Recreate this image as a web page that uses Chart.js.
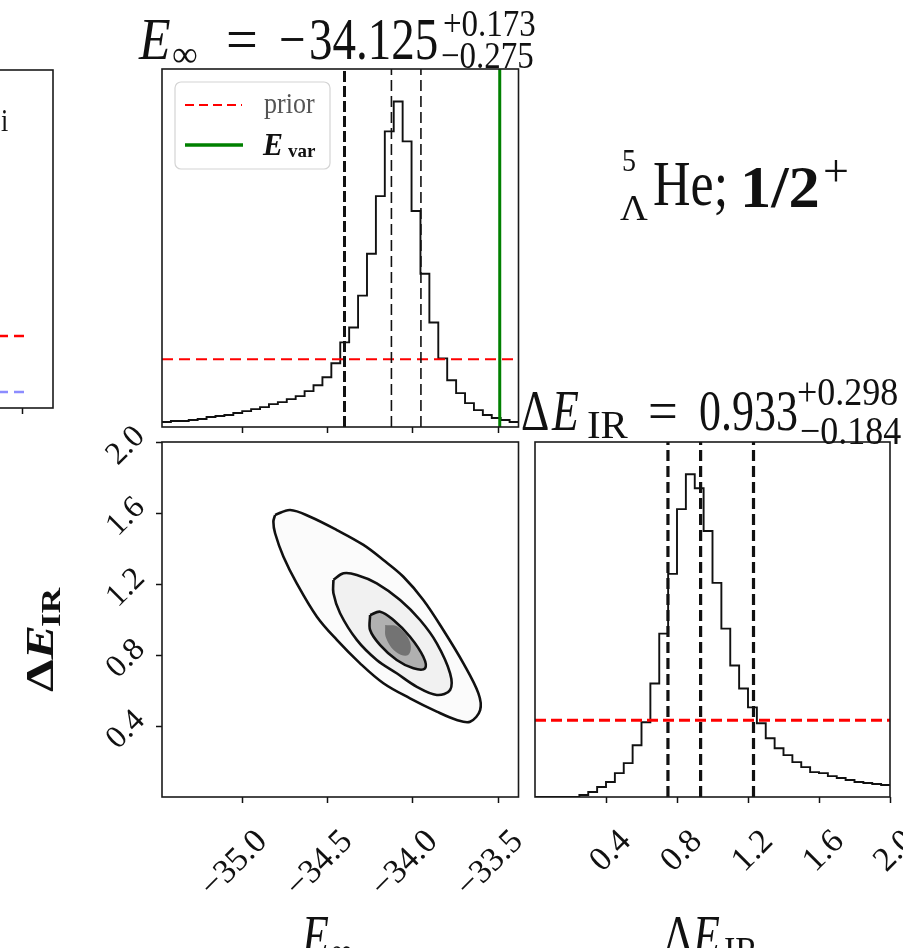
<!DOCTYPE html>
<html>
<head>
<meta charset="utf-8">
<script src="https://cdn.jsdelivr.net/npm/chart.js@4.4.1/dist/chart.umd.min.js"></script>
<style>
  html, body { margin: 0; padding: 0; background: #fff; overflow: hidden; }
  body { width: 903px; height: 948px; position: relative; }
  canvas { position: absolute; top: 0; }
</style>
</head>
<body>
<canvas id="side" width="360" height="948" style="left:-300px;width:360px;height:948px"></canvas>
<canvas id="eHist" width="903" height="948" style="left:0;width:903px;height:948px"></canvas>
<canvas id="joint" width="903" height="948" style="left:0;width:903px;height:948px"></canvas>
<canvas id="dHist" width="903" height="948" style="left:0;width:903px;height:948px"></canvas>
<script>
// axis ranges
const E_MIN = -35.47, E_MAX = -33.38;
const DE_MIN = 0.0, DE_MAX = 2.0;
const E_TICKS = [-35.0, -34.5, -34.0, -33.5];
const DE_TICKS = [0.4, 0.8, 1.2, 1.6, 2.0];

// 1d histograms (40 equal bins over the axis range, counts)
const E_HIST = [5, 6, 6, 7, 8, 10, 11, 12, 14, 16, 18, 20, 23, 25, 28, 31, 36, 42, 50, 64,
                85, 100, 132, 174, 232, 297, 327, 287, 217, 154, 105, 69, 47, 34, 24, 17, 12, 9, 7, 5];
const DE_HIST = [0, 0, 0, 0, 0, 2, 5, 10, 15, 24, 34, 52, 75, 114, 164, 224, 289, 324, 310, 267,
                 215, 169, 132, 109, 90, 74, 59, 49, 42, 35, 30, 25, 24, 21, 19, 17, 15, 14, 13, 12];

// quantiles (16/50/84), prior level, variational energy
const E_QUANT = [-34.400, -34.125, -33.952];
const DE_QUANT = [0.749, 0.933, 1.231];
const E_PRIOR = 68;
const DE_PRIOR = 77;
const E_VAR = -33.49;

// 2d contours [E_inf, dE_IR]
const CONTOUR_OUTER = [[-34.807, 1.589], [-34.719, 1.617], [-34.602, 1.579], [-34.445, 1.504], [-34.289, 1.420],
  [-34.172, 1.335], [-34.055, 1.241], [-33.938, 1.110], [-33.821, 0.941], [-33.703, 0.753], [-33.615, 0.584],
  [-33.605, 0.490], [-33.664, 0.424], [-33.742, 0.434], [-33.859, 0.481], [-34.016, 0.556], [-34.172, 0.641],
  [-34.309, 0.753], [-34.445, 0.885], [-34.562, 1.016], [-34.680, 1.204], [-34.758, 1.354], [-34.807, 1.486],
  [-34.817, 1.551]];
const CONTOUR_MID = [[-34.465, 1.223], [-34.406, 1.260], [-34.328, 1.251], [-34.211, 1.204], [-34.074, 1.110],
  [-33.957, 0.997], [-33.859, 0.866], [-33.781, 0.697], [-33.781, 0.603], [-33.859, 0.575], [-33.976, 0.621],
  [-34.094, 0.697], [-34.211, 0.772], [-34.328, 0.885], [-34.426, 1.035], [-34.465, 1.148]];
const CONTOUR_INNER = [[-34.250, 1.025], [-34.191, 1.044], [-34.113, 0.997], [-34.016, 0.903], [-33.938, 0.790],
  [-33.928, 0.725], [-33.996, 0.725], [-34.094, 0.772], [-34.191, 0.856], [-34.250, 0.941]];
const CONTOUR_CORE = [[-34.162, 0.969], [-34.086, 0.958], [-34.016, 0.873], [-34.027, 0.800], [-34.098, 0.817],
  [-34.156, 0.896]];

// partial neighbour panel on the far left
const SIDE_RED = [[0.0, 0.213], [0.92, 0.213]];
const SIDE_BLUE = [[0.0, 0.047], [0.92, 0.047]];
const SIDE_TICKS = [0.91];

const SERIF = '"Liberation Serif", "DejaVu Serif", serif';
const W = 903, H = 948;
const LABEL_BAND = 150;   // room under a labelled x axis

function fmt(v) { return (v < 0 ? '\u2212' : '') + Math.abs(v).toFixed(1); }
function stepPoints(min, max, heights) {
  const w = (max - min) / heights.length;
  const pts = heights.map((h, i) => ({x: min + i * w, y: h}));
  pts.push({x: max, y: heights[heights.length - 1]});
  return pts;
}
function pairs(arr, close) {
  const pts = arr.map(p => ({x: p[0], y: p[1]}));
  if (close) pts.push({x: arr[0][0], y: arr[0][1]});
  return pts;
}
function vline(x, top) { return [{x: x, y: 0}, {x: x, y: top}]; }
function hline(y, a, b) { return [{x: a, y: y}, {x: b, y: y}]; }

function txt(ctx, s, x, y, font, sy, color, sx) {
  ctx.save();
  ctx.translate(x, y);
  ctx.scale(sx || 1, sy || 1);
  ctx.font = font;
  ctx.fillStyle = color || '#111';
  ctx.textAlign = 'left';
  ctx.textBaseline = 'alphabetic';
  ctx.fillText(s, 0, 0);
  ctx.restore();
}

const frame = {
  id: 'frame',
  afterDatasetsDraw(chart) {
    const {ctx, chartArea: a} = chart;
    ctx.save();
    ctx.lineWidth = 1.6;
    ctx.strokeStyle = '#1a1a1a';
    ctx.strokeRect(a.left, a.top, a.right - a.left, a.bottom - a.top);
    ctx.restore();
  }
};

function base(area, w, h, band) {
  return {
    responsive: false,
    animation: false,
    events: [],
    layout: {padding: {left: area.l, top: area.t, right: w - area.r, bottom: h - area.b - band}},
    plugins: {legend: {display: false}, tooltip: {enabled: false}}
  };
}
const tickGrid = {drawOnChartArea: false, drawTicks: true, tickLength: 6, tickWidth: 1.5, tickColor: '#111'};
function xAxis(min, max, ticks, labels) {
  return {
    type: 'linear', position: 'bottom', min: min, max: max,
    afterBuildTicks: s => { s.ticks = ticks.map(v => ({value: v})); },
    afterFit: s => { s.height = labels ? LABEL_BAND : 0; s.paddingLeft = 0; s.paddingRight = 0; },
    border: {display: false},
    grid: tickGrid,
    ticks: {display: labels, autoSkip: false, minRotation: 45, maxRotation: 45, padding: 19, labelOffset: 20,
            color: '#111', font: {family: SERIF, size: 34}, callback: v => fmt(v)}
  };
}
function yHidden(max) {
  return {type: 'linear', min: 0, max: max, display: false};
}
function lineDs(data, color, width, dash) {
  return {data: data, showLine: true, pointRadius: 0, borderColor: color, borderWidth: width,
          borderDash: dash || [], fill: false, tension: 0};
}
function contourDs(data, fillColor, width, tension) {
  return {data: pairs(data, true), showLine: true, pointRadius: 0, borderWidth: width,
          borderColor: width ? '#111' : 'rgba(0,0,0,0)', backgroundColor: fillColor, fill: 'shape', tension: tension};
}

// ---------- left partial panel ----------
new Chart(document.getElementById('side'), {
  type: 'scatter',
  data: {datasets: [
    lineDs(pairs(SIDE_RED), '#ff0000', 2.5, [10, 6]),
    lineDs(pairs(SIDE_BLUE), '#8c8cff', 2.5, [10, 6])
  ]},
  options: Object.assign(base({l: 10, t: 70, r: 353, b: 408}, 360, H, 0), {
    scales: {x: xAxis(0, 1, SIDE_TICKS, false), y: yHidden(1)}
  }),
  plugins: [frame, {
    id: 'sideText',
    afterDraw(chart) { txt(chart.ctx, 'i', 301, 131, '26px ' + SERIF, 1.2); }
  }]
});

// ---------- E_inf histogram ----------
const eTop = Math.max(...E_HIST) * 1.1;
new Chart(document.getElementById('eHist'), {
  type: 'scatter',
  data: {datasets: [
    lineDs(vline(E_QUANT[0], eTop), '#111', 3, [11, 4]),
    lineDs(vline(E_QUANT[1], eTop), '#111', 1.6, [11, 5]),
    lineDs(vline(E_QUANT[2], eTop), '#111', 1.6, [11, 5]),
    lineDs(vline(E_VAR, eTop), '#008000', 3, []),
    lineDs(hline(E_PRIOR, E_MIN, E_MAX), '#ff0000', 2, [11, 6]),
    Object.assign(lineDs(stepPoints(E_MIN, E_MAX, E_HIST), '#111', 1.9), {stepped: true})
  ]},
  options: Object.assign(base({l: 162, t: 69, r: 518.5, b: 427}, W, H, 0), {
    scales: {x: xAxis(E_MIN, E_MAX, E_TICKS, false), y: yHidden(eTop)}
  }),
  plugins: [frame, {
    id: 'eText',
    afterDraw(chart) {
      const ctx = chart.ctx;
      // legend
      ctx.save();
      ctx.beginPath();
      ctx.roundRect(175, 82, 155, 87, 6);
      ctx.fillStyle = 'rgba(255,255,255,0.85)';
      ctx.fill();
      ctx.strokeStyle = '#d4d4d4';
      ctx.lineWidth = 1.2;
      ctx.stroke();
      ctx.setLineDash([9, 5]);
      ctx.strokeStyle = '#ff0000';
      ctx.lineWidth = 2;
      ctx.beginPath(); ctx.moveTo(185, 105); ctx.lineTo(242, 105); ctx.stroke();
      ctx.setLineDash([]);
      ctx.strokeStyle = '#008000';
      ctx.lineWidth = 3.5;
      ctx.beginPath(); ctx.moveTo(185, 145); ctx.lineTo(243, 145); ctx.stroke();
      ctx.restore();
      txt(ctx, 'prior', 264, 113, '26px ' + SERIF, 1.1, '#555');
      txt(ctx, 'E', 263, 155, 'italic bold 30px ' + SERIF, 1.05);
      txt(ctx, 'var', 288, 157, 'bold 19px ' + SERIF, 1.0);
      // title
      const M = '47px ' + SERIF, S = '33px ' + SERIF;
      txt(ctx, 'E', 139, 59, 'italic ' + M, 1.25, '#111', 1.1);
      txt(ctx, '\u221E', 172, 66, '36px ' + SERIF, 1.0);
      txt(ctx, '=', 226, 59, M, 1.25, '#111', 1.2);
      txt(ctx, '\u2212', 279, 59, M, 1.25);
      txt(ctx, '34.125', 309, 59, M, 1.25);
      txt(ctx, '+0.173', 443, 36, S, 1.15);
      txt(ctx, '\u22120.275', 441, 68, S, 1.15);
    }
  }]
});

// ---------- joint panel ----------
new Chart(document.getElementById('joint'), {
  type: 'scatter',
  data: {datasets: [
    contourDs(CONTOUR_CORE, '#737373', 0, 0.4),
    contourDs(CONTOUR_INNER, '#b0b0b0', 2.6, 0.35),
    contourDs(CONTOUR_MID, '#f1f1f1', 2.6, 0.35),
    contourDs(CONTOUR_OUTER, '#fbfbfb', 2.6, 0.35)
  ]},
  options: Object.assign(base({l: 162, t: 442, r: 518.5, b: 797}, W, H, LABEL_BAND), {
    scales: {
      x: xAxis(E_MIN, E_MAX, E_TICKS, true),
      y: {type: 'linear', position: 'left', min: DE_MIN, max: DE_MAX,
          afterBuildTicks: s => { s.ticks = DE_TICKS.map(v => ({value: v})); },
          afterFit: s => { s.width = 0; s.paddingTop = 0; s.paddingBottom = 0; },
          border: {display: false}, grid: tickGrid, ticks: {display: false}}
    }
  }),
  plugins: [frame, {
    id: 'jointText',
    afterDraw(chart) {
      const ctx = chart.ctx, ys = chart.scales.y;
      DE_TICKS.forEach(v => {
        ctx.save();
        ctx.translate(126, ys.getPixelForValue(v) + 4);
        ctx.rotate(-Math.PI / 4);
        ctx.font = '32px ' + SERIF;
        ctx.fillStyle = '#111';
        ctx.textAlign = 'center';
        ctx.textBaseline = 'middle';
        ctx.fillText(fmt(v), 0, 0);
        ctx.restore();
      });
      // y label
      ctx.save();
      ctx.translate(53, 692);
      ctx.rotate(-Math.PI / 2);
      ctx.scale(1.3, 1);
      ctx.fillStyle = '#111';
      ctx.font = 'bold 40px ' + SERIF;
      ctx.fillText('\u0394', 0, 0);
      ctx.font = 'bold italic 40px ' + SERIF;
      ctx.fillText('E', 25, 0);
      ctx.font = 'bold 27px ' + SERIF;
      ctx.fillText('IR', 50, 7);
      ctx.restore();
      // x label
      txt(ctx, 'E', 302, 955, 'italic 44px ' + SERIF, 1.3);
      txt(ctx, '\u221E', 331, 962, '30px ' + SERIF, 1.1);
      // nucleus label
      txt(ctx, '5', 622, 171, '28px ' + SERIF, 1.1);
      txt(ctx, '\u039B', 620, 220, '32px ' + SERIF, 1.1, '#111', 1.2);
      txt(ctx, 'He;', 653, 205, '52px ' + SERIF, 1.2);
      txt(ctx, '1/2', 740, 207, 'bold 50px ' + SERIF, 1.2, '#111', 1.25);
      txt(ctx, '+', 823, 186, '46px ' + SERIF, 1.0);
    }
  }]
});

// ---------- dE_IR histogram ----------
const dTop = Math.max(...DE_HIST) * 1.1;
new Chart(document.getElementById('dHist'), {
  type: 'scatter',
  data: {datasets: [
    lineDs(vline(DE_QUANT[0], dTop), '#111', 3.2, [11, 5]),
    lineDs(vline(DE_QUANT[1], dTop), '#111', 3.2, [11, 5]),
    lineDs(vline(DE_QUANT[2], dTop), '#111', 3.2, [11, 5]),
    lineDs(hline(DE_PRIOR, DE_MIN, DE_MAX), '#ff0000', 3, [11, 5]),
    Object.assign(lineDs(stepPoints(DE_MIN, DE_MAX, DE_HIST), '#111', 1.9), {stepped: true})
  ]},
  options: Object.assign(base({l: 535, t: 442, r: 890, b: 797}, W, H, LABEL_BAND), {
    scales: {x: xAxis(DE_MIN, DE_MAX, DE_TICKS, true), y: yHidden(dTop)}
  }),
  plugins: [frame, {
    id: 'dText',
    afterDraw(chart) {
      const ctx = chart.ctx;
      const M = '44px ' + SERIF, S = '36px ' + SERIF;
      txt(ctx, '\u0394', 521, 430, M, 1.3);
      txt(ctx, 'E', 552, 430, 'italic ' + M, 1.3);
      txt(ctx, 'IR', 587, 438, '34px ' + SERIF, 1.15, '#111', 1.2);
      txt(ctx, '=', 648, 430, M, 1.3, '#111', 1.2);
      txt(ctx, '0.933', 699, 430, M, 1.3);
      txt(ctx, '+0.298', 797, 405, S, 1.1);
      txt(ctx, '\u22120.184', 800, 444, S, 1.1);
      // x label
      txt(ctx, '\u0394', 664, 955, M, 1.3);
      txt(ctx, 'E', 693, 955, 'italic ' + M, 1.3);
      txt(ctx, 'IR', 724, 964, '34px ' + SERIF, 1.15);
    }
  }]
});
</script>
</body>
</html>
